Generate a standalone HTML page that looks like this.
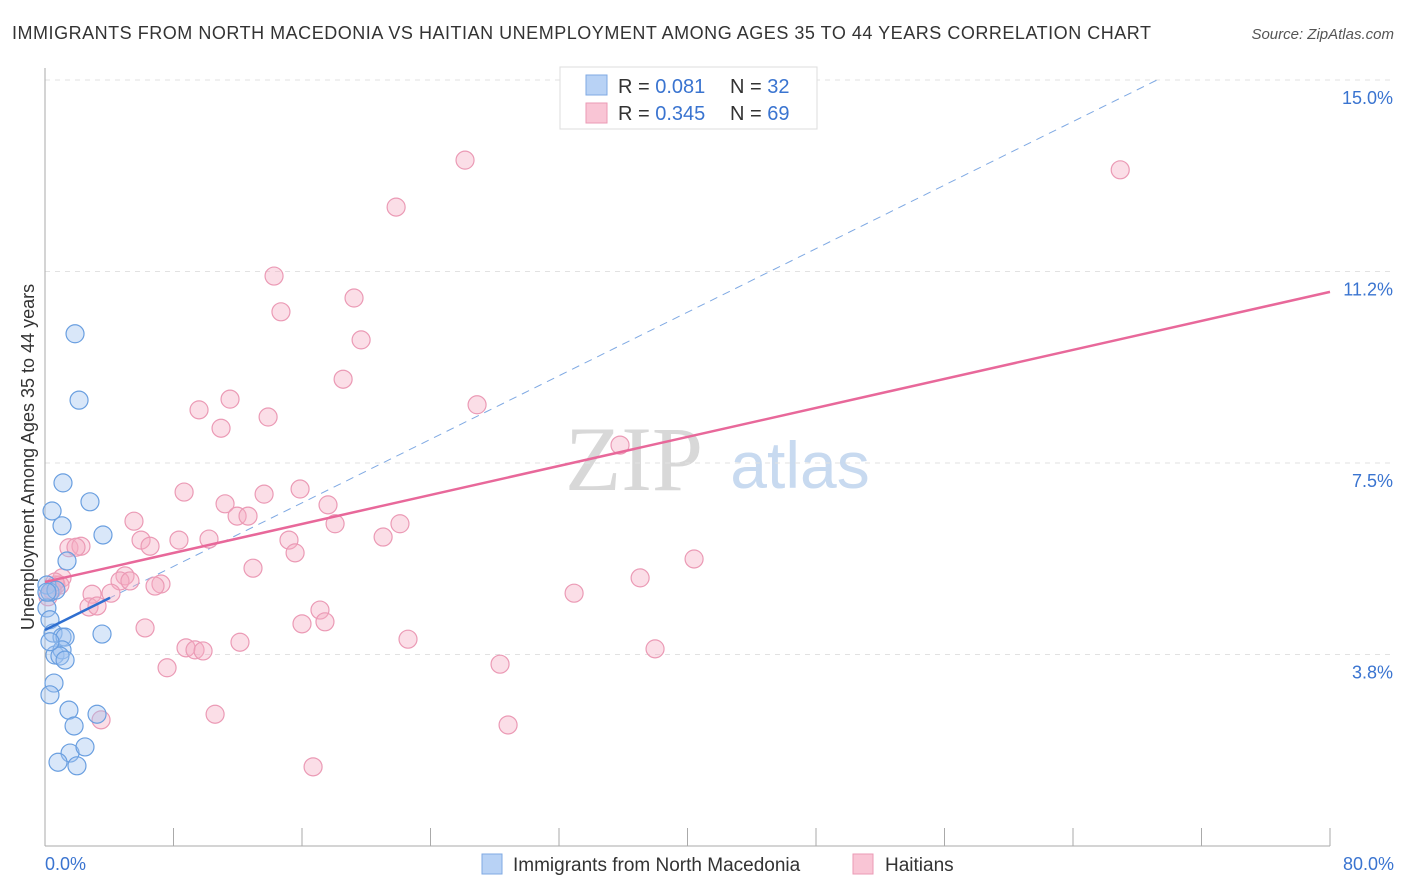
<!DOCTYPE html>
<html><head><meta charset="utf-8"><style>
body{margin:0;background:#fff;font-family:"Liberation Sans",sans-serif;}
#wrap{position:relative;width:1406px;height:892px;overflow:hidden;}
</style></head><body>
<div id="wrap">
<svg id="svg" width="1406" height="892" xmlns="http://www.w3.org/2000/svg">
<text x="12" y="39" font-size="18" fill="#333" textLength="1139">IMMIGRANTS FROM NORTH MACEDONIA VS HAITIAN UNEMPLOYMENT AMONG AGES 35 TO 44 YEARS CORRELATION CHART</text>
<text x="1394" y="39" font-size="15" fill="#555" font-style="italic" text-anchor="end">Source: ZipAtlas.com</text>
<text x="634" y="490" font-size="92" fill="#d8d8d8" font-family="Liberation Serif,serif" text-anchor="middle">ZIP</text>
<text x="800" y="488" font-size="66" fill="#c8daf0" text-anchor="middle">atlas</text>
<text transform="translate(34,457) rotate(-90)" font-size="18" fill="#333" text-anchor="middle">Unemployment Among Ages 35 to 44 years</text>
<g id="grid"></g><g id="marks"></g>
<g>
<rect x="560" y="67" width="257" height="62" fill="#fff" stroke="#ddd"/>
<rect x="586" y="75" width="21" height="20" fill="#b8d2f5" stroke="#7fa9e3"/>
<rect x="586" y="103" width="21" height="20" fill="#f9c5d5" stroke="#eb9ab5"/>
<text x="618" y="93" font-size="20" fill="#333">R = <tspan fill="#3a74d0">0.081</tspan></text>
<text x="730" y="93" font-size="20" fill="#333">N = <tspan fill="#3a74d0">32</tspan></text>
<text x="618" y="120" font-size="20" fill="#333">R = <tspan fill="#3a74d0">0.345</tspan></text>
<text x="730" y="120" font-size="20" fill="#333">N = <tspan fill="#3a74d0">69</tspan></text>
</g>
<g>
<rect x="482" y="854" width="20" height="20" fill="#b8d2f5" stroke="#7fa9e3"/>
<text x="513" y="871" font-size="19" fill="#333">Immigrants from North Macedonia</text>
<rect x="853" y="854" width="20" height="20" fill="#f9c5d5" stroke="#eb9ab5"/>
<text x="885" y="871" font-size="19" fill="#333">Haitians</text>
</g>
</svg></div>
<script>
const blueX=[1.87,2.12,1.12,2.80,0.44,1.06,3.61,1.37,0.12,0.31,0.68,0.12,0.31,0.5,1.06,1.25,3.55,0.62,1.06,0.93,1.25,0.56,0.31,1.49,3.24,1.81,1.56,2.49,0.81,1.99,0.12,0.31];
const blueY=[10.03,8.73,7.11,6.74,6.56,6.27,6.09,5.58,5.11,4.97,5.01,4.66,4.43,4.17,4.09,4.09,4.15,3.74,3.84,3.72,3.64,3.19,2.96,2.66,2.58,2.35,1.82,1.94,1.64,1.57,4.97,4.0];
const pinkX=[26.15,66.94,21.86,14.26,19.24,14.69,19.68,18.56,11.52,9.59,13.89,26.90,10.96,35.80,8.66,15.88,13.64,11.21,17.62,11.96,12.64,5.54,18.06,22.10,8.34,10.21,15.19,5.98,6.54,21.05,1.49,2.24,1.93,15.57,40.41,12.95,37.05,4.98,1.06,4.67,7.22,0.68,5.29,6.85,0.19,2.93,4.11,32.94,2.74,3.24,17.12,16.00,17.43,6.23,22.60,12.14,8.78,9.34,9.84,37.98,7.60,28.33,10.59,3.49,28.83,16.69,0.93,0.44,0.62];
const pinkY=[13.43,13.24,12.51,11.16,10.73,10.46,9.91,9.14,8.75,8.54,8.40,8.64,8.18,7.85,6.93,6.99,6.89,6.70,6.68,6.46,6.46,6.36,6.31,6.31,5.99,6.01,5.99,5.99,5.87,6.05,5.84,5.87,5.85,5.74,5.62,5.44,5.25,5.29,5.25,5.19,5.13,5.11,5.19,5.09,4.88,4.93,4.95,4.95,4.68,4.70,4.62,4.35,4.39,4.27,4.05,3.99,3.88,3.84,3.82,3.86,3.49,3.56,2.58,2.47,2.37,1.55,5.11,5.01,5.17];
const blueLine=[0,4.23,4.05,4.86];
const pinkLine=[0,5.17,80,10.85];
const yTicks=[3.75,7.5,11.25,15];
const yTickLabels=["3.8%","7.5%","11.2%","15.0%"];
const xTicks=[0,8,16,24,32,40,48,56,64,72,80];
const NS="http://www.w3.org/2000/svg";
const X=v=>45+v*16.0625, Y=v=>846-v*51.07;
function mk(t,a,p){const e=document.createElementNS(NS,t);for(const k in a)e.setAttribute(k,a[k]);p.appendChild(e);return e;}
const grid=document.getElementById('grid'), marks=document.getElementById('marks');
yTicks.forEach((v,i)=>{
 const l=mk('line',{x1:45,x2:1395,y1:Y(v),y2:Y(v),stroke:'#e2e2e2','stroke-dasharray':'5,5'},grid);
 
 
 const t=mk('text',{x:1393,y:Y(v)+24,'font-size':18,fill:'#3a74d0','text-anchor':'end'},grid);
 t.textContent=yTickLabels[i];
 
 
});
mk('line',{x1:45,x2:45,y1:68,y2:846,stroke:'#aaa'},grid);
mk('line',{x1:45,x2:1330,y1:846,y2:846,stroke:'#aaa'},grid);
xTicks.forEach(v=>{const l=mk('line',{x1:X(v),x2:X(v),y1:828,y2:846,stroke:'#aaa'},grid);
 
 });
const xl=mk('text',{x:45,y:870,'font-size':18,fill:'#3a74d0'},grid);xl.textContent='0.0%';


const xr=mk('text',{x:1394,y:870,'font-size':18,fill:'#3a74d0','text-anchor':'end'},grid);xr.textContent='80.0%';


const sl=(blueLine[3]-blueLine[1])/(blueLine[2]-blueLine[0]);
const xEnd=blueLine[0]+(15-blueLine[1])/sl;
const dl=mk('line',{x1:X(blueLine[0]),y1:Y(blueLine[1]),x2:X(xEnd),y2:Y(15),stroke:'#7fa9e3','stroke-dasharray':'8,6','stroke-width':1},marks);


pinkX.forEach((v,i)=>{const c=mk('circle',{cx:X(v),cy:Y(pinkY[i]),r:9,fill:'rgba(246,172,196,0.4)',stroke:'#eb9ab5','stroke-width':1.2},marks);
 
 });
blueX.forEach((v,i)=>{const c=mk('circle',{cx:X(v),cy:Y(blueY[i]),r:9,fill:'rgba(160,195,240,0.4)',stroke:'#6a9fe0','stroke-width':1.2},marks);
 
 });
const pl=mk('line',{x1:X(pinkLine[0]),y1:Y(pinkLine[1]),x2:X(pinkLine[2]),y2:Y(pinkLine[3]),stroke:'#e8689a','stroke-width':2.5},marks);


const bl=mk('line',{x1:X(blueLine[0]),y1:Y(blueLine[1]),x2:X(blueLine[2]),y2:Y(blueLine[3]),stroke:'#2f6fd0','stroke-width':2.5},marks);


</script>
</body></html>
